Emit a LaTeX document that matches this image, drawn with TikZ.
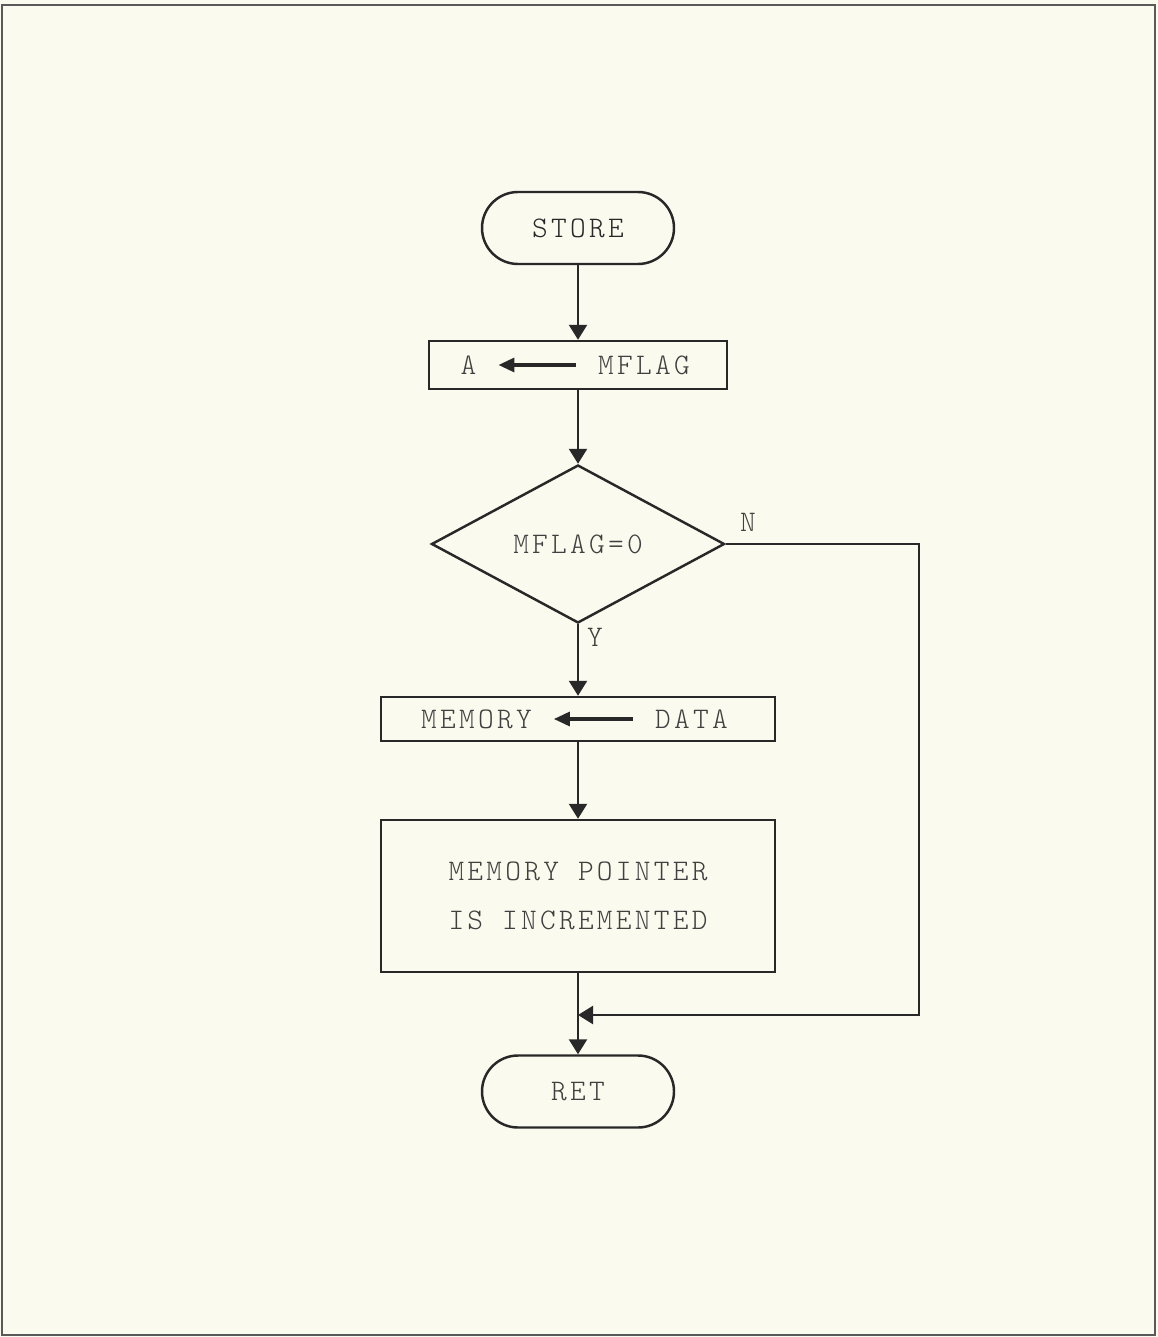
\documentclass[tikz,border=0pt]{standalone}
\usepackage{fontspec}
\setmonofont{Latin Modern Mono Light}[LetterSpace=11]
\usetikzlibrary{shapes.geometric,arrows.meta}

\definecolor{paper}{RGB}{250,250,238}
\definecolor{ink}{RGB}{40,40,40}

\tikzset{
	terminal/.style={draw, rounded corners=0.72cm, minimum width=3.84cm, minimum height=1.44cm},
	process/.style={draw, minimum width=7.88cm},
	decision/.style={draw, diamond, aspect=1.85, inner sep=0pt, minimum width=5.86cm, minimum height=3.16cm},
	flow/.style={-{Triangle[length=0.3cm,width=0.36cm]}},
	inarrow/.style={-{Triangle[length=0.32cm,width=0.28cm]}, line width=1.8pt, shorten <=0.3cm, shorten >=0.3cm},
}

\begin{document}
\begin{tikzpicture}[line width=1.4pt, color=ink, font=\ttfamily\fontsize{17}{28}\selectfont]

	\useasboundingbox (0,0) rectangle (23.16,-26.74);
	\fill[paper] (0,0) rectangle (23.16,-26.74);
	\draw[line width=0.8pt, black!65] (0.04,-0.1) rectangle (23.1,-26.7);

	\node[terminal] (store) at (11.56,-4.56) {STORE};

	\node[process, minimum width=5.96cm, minimum height=0.96cm] (load) at (11.56,-7.30) {};
	\node[text=black!75] (rega) at (9.37,-7.30) {A};
	\node[text=black!75] (mflag) at (12.88,-7.30) {MFLAG};
	\draw[inarrow] (mflag) -- (rega);

	\node[decision, text=black!75] (test) at (11.56,-10.88) {MFLAG=0};
	\node[text=black!75] (no) at (14.96,-10.44) {N};
	\node[text=black!75] (yes) at (11.9,-12.74) {Y};

	\node[process, minimum height=0.88cm] (write) at (11.56,-14.38) {};
	\node[text=black!75] (mem) at (9.53,-14.38) {MEMORY};
	\node[text=black!75] (data) at (13.83,-14.38) {DATA};
	\draw[inarrow] (data) -- (mem);

	\node[process, minimum height=3.04cm, align=center, text=black!75] (incr) at (11.56,-17.92) {MEMORY POINTER\\IS INCREMENTED};

	\node[terminal, text=black!75] (ret) at (11.56,-21.83) {RET};

	\coordinate (skip) at (18.38,-10.88);
	\coordinate (join) at (11.56,-20.30);

	\draw[flow] (store) -- (load);
	\draw[flow] (load) -- (test);
	\draw[flow] (test) -- (write);
	\draw[flow] (write) -- (incr);
	\draw (incr) -- (join);
	\draw[flow] (join) -- (ret);
	\draw[flow] (test.east) -- (skip) |- (join);
\end{tikzpicture}
\end{document}
